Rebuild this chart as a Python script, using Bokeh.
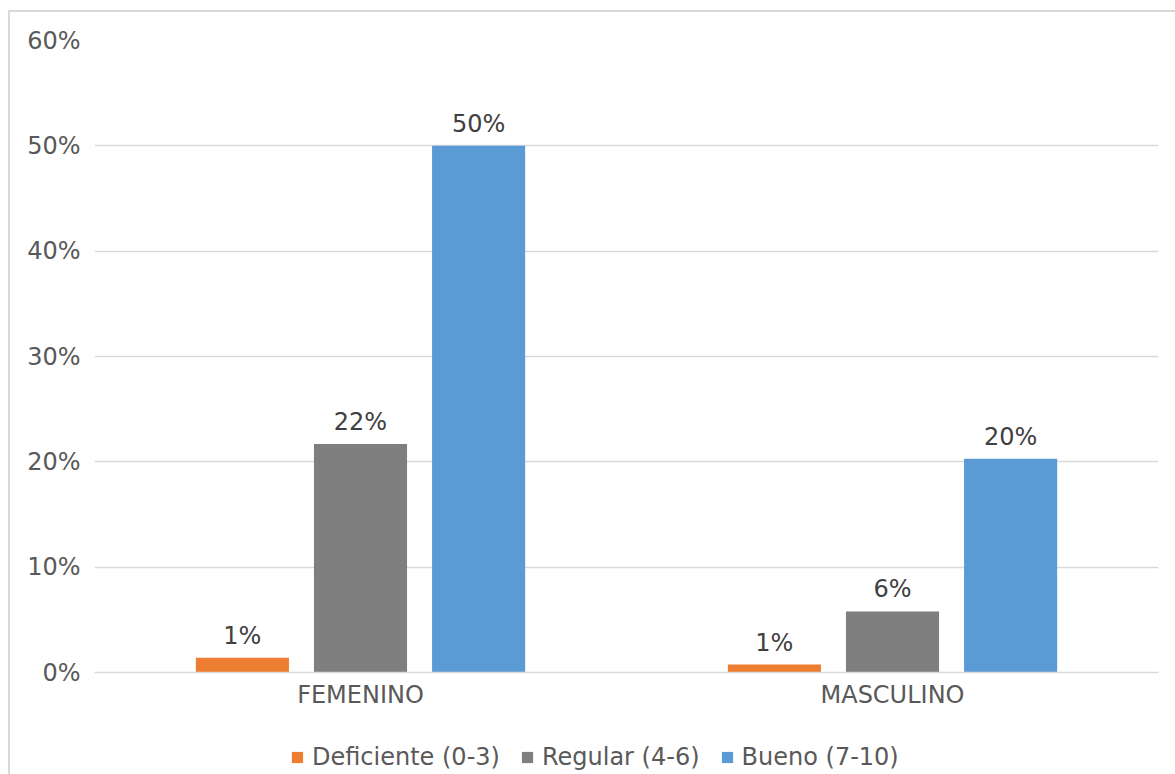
from bokeh.plotting import figure
from bokeh.layouts import column
from bokeh.models import (ColumnDataSource, FactorRange, Legend, LegendItem,
                          NumeralTickFormatter, LabelSet, FixedTicker, Range1d)
from bokeh.transform import dodge
from bokeh.core.properties import value
from bokeh.embed import file_html
from bokeh.resources import INLINE

categories = ["FEMENINO", "MASCULINO"]
series = ["Deficiente (0-3)", "Regular (4-6)", "Bueno (7-10)"]
deficiente = [0.014, 0.0075]
regular = [0.217, 0.058]
bueno = [0.50, 0.203]
y_ticks = [0.0, 0.1, 0.2, 0.3, 0.4, 0.5, 0.6]
colors = ["#ED7D31", "#7F7F7F", "#5B9BD5"]

def pct(vals):
    return [f"{round(v * 100):.0f}%" for v in vals]

src = ColumnDataSource(dict(
    cat=categories,
    d=deficiente, r=regular, b=bueno,
    dl=pct(deficiente), rl=pct(regular), bl=pct(bueno),
))

FONT = "DejaVu Sans"
FS = "24px"
p = figure(width=1165, height=708, x_range=FactorRange(*categories),
           y_range=Range1d(0, 0.6), output_backend="svg", toolbar_location=None,
           min_border_left=84, min_border_right=17, min_border_top=28, min_border_bottom=48)
p.outline_line_color = None
p.background_fill_color = "white"
p.border_fill_color = "white"

offsets = [-0.222, 0.0, 0.222]
cols = ["d", "r", "b"]
lcols = ["dl", "rl", "bl"]
for off, c, lc, col in zip(offsets, cols, lcols, colors):
    x = dodge("cat", off, range=p.x_range)
    p.vbar(x=x, top=c, width=0.175, source=src, fill_color=col, line_color=None)
    lab = LabelSet(x=x, y=c, text=lc, source=src, y_offset=8, text_align="center",
                   text_baseline="bottom", text_font=value(FONT), text_font_size=FS,
                   text_color="#404040")
    p.add_layout(lab)

p.xgrid.grid_line_color = None
p.ygrid.grid_line_color = "#d9d9d9"
p.ygrid.grid_line_width = 1.5
p.yaxis.ticker = FixedTicker(ticks=y_ticks)
p.yaxis.formatter = NumeralTickFormatter(format="0%")
p.yaxis.axis_line_color = None
p.yaxis.major_tick_line_color = None
p.yaxis.minor_tick_line_color = None
p.yaxis.major_label_standoff = 8
for ax in (p.xaxis, p.yaxis):
    ax.major_label_text_font = FONT
    ax.major_label_text_font_size = FS
    ax.major_label_text_color = "#595959"
p.xaxis.axis_line_color = "#d9d9d9"
p.xaxis.axis_line_width = 1.5
p.xaxis.major_tick_line_color = None
p.xaxis.minor_tick_line_color = None
p.xaxis.major_label_standoff = 2

# Legend strip below the chart
pl = figure(width=1165, height=54, x_range=Range1d(0, 1), y_range=Range1d(0, 1),
            output_backend="svg", toolbar_location=None,
            x_axis_location=None, y_axis_location=None,
            min_border_left=0, min_border_right=0, min_border_top=0, min_border_bottom=0)
pl.grid.visible = False
pl.outline_line_color = None
pl.border_fill_color = "white"
leg_renderers = [pl.vbar(x=c, top=c, width=0.1, source=src, fill_color=col,
                         line_color=None, visible=False)
                 for c, col in zip(cols, colors)]
legend = Legend(items=[LegendItem(label=s, renderers=[r]) for s, r in zip(series, leg_renderers)],
                orientation="horizontal", location=(196, 3), border_line_color=None,
                background_fill_alpha=0, label_text_font=FONT, label_text_font_size=FS,
                label_text_color="#595959", glyph_width=14, glyph_height=14,
                label_standoff=8, spacing=20, padding=2, margin=0,
                inactive_fill_alpha=0)
pl.add_layout(legend, "center")

layout = column(p, pl, spacing=0, margin=(10, 0, 0, 8))
layout.styles = {"border-top": "2px solid #d9d9d9", "border-left": "2px solid #d9d9d9"}

open("out.html", "w").write(file_html(layout, INLINE))
